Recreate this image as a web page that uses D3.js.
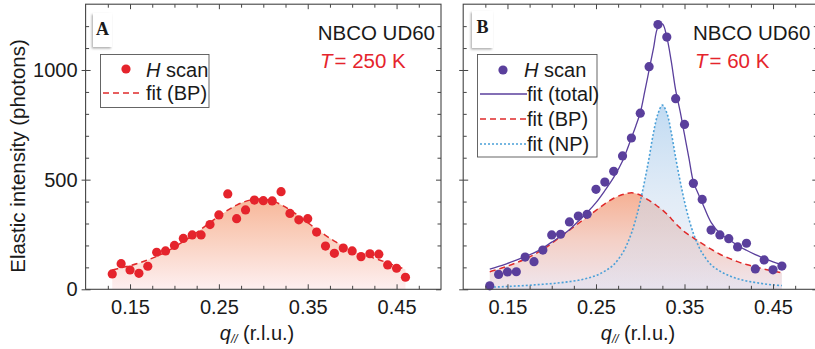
<!DOCTYPE html>
<html><head><meta charset="utf-8">
<script src="https://cdn.jsdelivr.net/npm/d3@7"></script>
<style>
body{margin:0;background:#fff}
svg{display:block}
text{font-family:"Liberation Sans",Arial,Helvetica,sans-serif;fill:#1a1a1a}
</style>
</head><body>
<svg id="c" width="815" height="349"></svg>
<script>
// ---------- DATA ----------
const qScan = [0.13,0.14,0.15,0.16,0.17,0.18,0.19,0.20,0.21,0.22,0.23,0.24,0.25,0.26,0.27,0.28,0.29,0.30,0.31,0.32,0.33,0.34,0.35,0.36,0.37,0.38,0.39,0.40,0.41,0.42,0.43,0.44,0.45,0.46];
const intensityA = [70,117,88,73,105,169,175,200,232,248,248,295,339,435,322,362,407,404,403,445,346,317,322,261,197,164,188,175,149,162,160,111,96,55];
const intensityB = [16,68,79,80,147,126,179,248,251,307,334,342,456,489,538,608,690,803,1015,1207,1150,869,752,483,410,270,248,231,193,210,93,134,89,106];

// fit curves
const fitQA = [0.13,0.14,0.15,0.16,0.17,0.18,0.19,0.20,0.21,0.22,0.23,0.24,0.25,0.26,0.27,0.28,0.29,0.30,0.31,0.32,0.33,0.34,0.35,0.36,0.37,0.38,0.39,0.40,0.41,0.42,0.43,0.44,0.45,0.46];
const fitBPA = [88,98,108,120,134,150,170,193,218,245,274,304,334,361,384,401,410,411,403,386,362,334,304,274,246,220,197,176,160,148,135,120,106,90];

const fitQB = [0.13,0.14,0.15,0.16,0.17,0.18,0.19,0.20,0.21,0.22,0.23,0.24,0.25,0.26,0.27,0.28,0.285,0.29,0.295,0.30,0.305,0.31,0.315,0.32,0.325,0.33,0.335,0.34,0.345,0.35,0.355,0.36,0.365,0.37,0.38,0.39,0.40,0.41,0.42,0.43,0.44,0.45,0.46];
const fitTotalB = [92,104,118,133,149,166,188,215,242,272,310,350,395,450,510,585,635,690,745,805,900,1000,1100,1195,1210,1150,1040,908,812,705,598,490,440,395,305,255,227,200,178,158,141,125,111];
const fitBPB = [80,92,106,121,138,158,182,210,240,270,300,330,360,390,415,432,437,440,437,430,418,405,392,377,362,343,322,300,280,262,248,235,221,208,183,160,142,126,113,102,92,83,75];
const fitNPB = [10,11,13,15,17,20,23,26,30,35,41,50,63,83,112,165,205,255,320,400,495,600,715,800,840,805,715,600,495,400,320,255,205,165,112,83,63,48,38,31,25,20,17];

const xTickLabels = [0.15,0.25,0.35,0.45];
const xMinorTicks = [0.125,0.175,0.2,0.225,0.275,0.3,0.325,0.375,0.4,0.425,0.475];
const yTickLabels = [0,500,1000];
const yMinorTicks = [100,200,300,400,600,700,800,900,1100,1200];

// ---------- LAYOUT ----------
const svg = d3.select("#c");
const defs = svg.append("defs");
const y = d3.scaleLinear().domain([0,1300]).range([289.3,4.2]);
const xA = d3.scaleLinear().domain([0.10,0.50]).range([85.6,441]);
const xB = d3.scaleLinear().domain([0.10,0.50]).range([463.2,817.3]);

const red = "#e5242c", purple = "#5a3f9c", blue = "#4aa0d8", dashRed = "#e02a2a";

function lin(id, stops, y1, y2){
  const g = defs.append("linearGradient").attr("id",id)
    .attr("gradientUnits","userSpaceOnUse").attr("x1",0).attr("x2",0).attr("y1",y1).attr("y2",y2);
  stops.forEach(s=>g.append("stop").attr("offset",s[0]).attr("stop-color",s[1]).attr("stop-opacity",s[2]===undefined?1:s[2]));
}
lin("gA", [[0,"#f7b698"],[0.5,"#fad3c3"],[1,"#fdeff0"]], y(420), y(0));
lin("gBP", [[0,"#f6b093"],[0.5,"#f4d0c6"],[1,"#efe6ee"]], y(445), y(0));
lin("gNP", [[0,"#b5d4f0",0.85],[0.5,"#c9dcf0",0.55],[1,"#d6dbee",0.3]], y(840), y(0));

const shadow = defs.append("filter").attr("id","sh").attr("x","-50%").attr("y","-50%").attr("width","200%").attr("height","200%");
shadow.append("feDropShadow").attr("dx",-1.2).attr("dy",1.5).attr("stdDeviation",1.3).attr("flood-color","#888").attr("flood-opacity",0.7);

function axes(x, showY){
  const g = svg.append("g");
  const y0 = y(0), yT = y(1300), xL = x(0.10), xR = x(0.50);
  const strip = s=>s.select(".domain").remove();
  // bottom
  g.append("g").attr("transform",`translate(0,${y0})`)
    .call(d3.axisBottom(x).tickValues(xMinorTicks).tickSize(-3.5).tickFormat("")).call(strip);
  const bx = g.append("g").attr("transform",`translate(0,${y0})`)
    .call(d3.axisBottom(x).tickValues(xTickLabels).tickSize(-5).tickPadding(8).tickFormat(d3.format(".2f"))).call(strip);
  bx.selectAll("text").attr("font-size",20).attr("dy","0.85em").attr("fill","#1a1a1a");
  // top
  g.append("g").attr("transform",`translate(0,${yT})`)
    .call(d3.axisTop(x).tickValues(xMinorTicks).tickSize(-3.5).tickFormat("")).call(strip);
  g.append("g").attr("transform",`translate(0,${yT})`)
    .call(d3.axisTop(x).tickValues(xTickLabels).tickSize(-5).tickFormat("")).call(strip);
  // left
  g.append("g").attr("transform",`translate(${xL},0)`)
    .call(d3.axisLeft(y).tickValues(yMinorTicks).tickSize(-3.5).tickFormat("")).call(strip);
  g.append("g").attr("transform",`translate(${xL},0)`)
    .call(d3.axisLeft(y).tickValues(yTickLabels).tickSize(-5).tickFormat("")).call(strip);
  const ly = g.append("g").attr("transform",`translate(${xL},0)`)
    .call(d3.axisLeft(y).tickValues(yTickLabels).tickSize(4).tickPadding(4).tickFormat(showY?d3.format("d"):"")).call(strip);
  ly.selectAll("text").attr("font-size",20).attr("fill","#1a1a1a");
  // right
  g.append("g").attr("transform",`translate(${xR},0)`)
    .call(d3.axisRight(y).tickValues(yMinorTicks).tickSize(-3.5).tickFormat("")).call(strip);
  g.append("g").attr("transform",`translate(${xR},0)`)
    .call(d3.axisRight(y).tickValues(yTickLabels).tickSize(-5).tickFormat("")).call(strip);
  g.selectAll(".tick line").attr("stroke","#444").attr("stroke-width",1);
  g.append("rect").attr("x",xL).attr("y",yT).attr("width",xR-xL).attr("height",y0-yT)
    .attr("fill","none").attr("stroke","#444").attr("stroke-width",1.1);
  // x title
  const t = svg.append("text").attr("x", x===xA?257:638).attr("y",340).attr("text-anchor","middle").attr("font-size",20);
  t.append("tspan").style("font-style","italic").text("q");
  t.append("tspan").style("font-style","italic").style("font-size","12px").attr("dy",3).text("//");
  t.append("tspan").attr("dy",-3).text(" (r.l.u.)");
}

function labelBox(x0, y0, w, h, letter){
  svg.append("rect").attr("x",x0).attr("y",y0).attr("width",w).attr("height",h)
    .attr("fill","#fff").attr("filter","url(#sh)");
  svg.append("text").attr("x",x0+w/2).attr("y",y0+22).attr("text-anchor","middle")
    .style("font-family","'Liberation Serif','Times New Roman',serif").style("font-weight","bold")
    .style("font-size","18px").text(letter);
}

// ---------- PANEL A ----------
const areaA = d3.area().x((d,i)=>xA(fitQA[i])).y0(y(0)).y1(d=>y(d)).curve(d3.curveCatmullRom);
svg.append("path").datum(fitBPA).attr("d",areaA).attr("fill","url(#gA)");
svg.append("path").datum(fitBPA)
  .attr("d",d3.line().x((d,i)=>xA(fitQA[i])).y(d=>y(d)).curve(d3.curveCatmullRom))
  .attr("fill","none").attr("stroke",dashRed).attr("stroke-width",1.5).attr("stroke-dasharray","6,4");
svg.append("g").selectAll("circle").data(intensityA).join("circle")
  .attr("cx",(d,i)=>xA(qScan[i])).attr("cy",d=>y(d)).attr("r",4.6).attr("fill",red);
axes(xA, true);
labelBox(93,13,19,34,"A");

// legend A
svg.append("rect").attr("x",100.5).attr("y",54.5).attr("width",108.5).attr("height",53)
  .attr("fill","#fff").attr("stroke","#555").attr("stroke-width",0.9);
svg.append("circle").attr("cx",126).attr("cy",69).attr("r",4.6).attr("fill",red);
const lA1 = svg.append("text").attr("x",146).attr("y",76.5).attr("font-size",20);
lA1.append("tspan").style("font-style","italic").text("H");
lA1.append("tspan").text(" scan");
svg.append("line").attr("x1",103).attr("x2",143).attr("y1",93).attr("y2",93)
  .attr("stroke",dashRed).attr("stroke-width",1.5).attr("stroke-dasharray","6,4");
svg.append("text").attr("x",146).attr("y",100).attr("font-size",20).text("fit (BP)");

svg.append("text").attr("x",435).attr("y",40).attr("text-anchor","end").attr("font-size",20.5).text("NBCO UD60");
const tA = svg.append("text").attr("x",320).attr("y",68).attr("font-size",20.5).style("fill",red);
tA.append("tspan").style("font-style","italic").style("fill",red).text("T");
tA.append("tspan").style("fill",red).attr("dx",2).text("= 250 K");

// ---------- PANEL B ----------
const areaB = arr => d3.area().x((d,i)=>xB(fitQB[i])).y0(y(0)).y1(d=>y(d)).curve(d3.curveCatmullRom)(arr);
const lineB = arr => d3.line().x((d,i)=>xB(fitQB[i])).y(d=>y(d)).curve(d3.curveCatmullRom)(arr);
svg.append("path").attr("d",areaB(fitBPB)).attr("fill","url(#gBP)");
svg.append("path").attr("d",areaB(fitNPB)).attr("fill","url(#gNP)");
svg.append("path").attr("d",lineB(fitBPB)).attr("fill","none").attr("stroke",dashRed)
  .attr("stroke-width",1.5).attr("stroke-dasharray","6,4");
svg.append("path").attr("d",lineB(fitNPB)).attr("fill","none").attr("stroke",blue)
  .attr("stroke-width",1.6).attr("stroke-dasharray","2,2");
svg.append("path").attr("d",lineB(fitTotalB)).attr("fill","none").attr("stroke",purple).attr("stroke-width",1.3);
svg.append("g").selectAll("circle").data(intensityB).join("circle")
  .attr("cx",(d,i)=>xB(qScan[i])).attr("cy",d=>y(d)).attr("r",4.6).attr("fill",purple);
axes(xB, false);
labelBox(472,11,21,37,"B");

// legend B
svg.append("rect").attr("x",477.5).attr("y",54.5).attr("width",119.5).attr("height",102.5)
  .attr("fill","#fff").attr("stroke","#555").attr("stroke-width",0.9);
svg.append("circle").attr("cx",503).attr("cy",70).attr("r",4.6).attr("fill",purple);
const lB1 = svg.append("text").attr("x",524).attr("y",77).attr("font-size",20);
lB1.append("tspan").style("font-style","italic").text("H");
lB1.append("tspan").text(" scan");
const legRows = [
  {label:"fit (total)", y:94, stroke:purple, dash:null, w:1.3},
  {label:"fit (BP)", y:119, stroke:dashRed, dash:"6,4", w:1.5},
  {label:"fit (NP)", y:144, stroke:blue, dash:"2,2", w:1.6}
];
legRows.forEach(r=>{
  const l = svg.append("line").attr("x1",480).attr("x2",527).attr("y1",r.y).attr("y2",r.y)
    .attr("stroke",r.stroke).attr("stroke-width",r.w);
  if(r.dash) l.attr("stroke-dasharray",r.dash);
  svg.append("text").attr("x",527).attr("y",r.y+7).attr("font-size",20).text(r.label);
});

svg.append("text").attr("x",693).attr("y",40).attr("font-size",20.5).text("NBCO UD60");
const tB = svg.append("text").attr("x",695).attr("y",68).attr("font-size",20.5).style("fill",red);
tB.append("tspan").style("font-style","italic").style("fill",red).text("T");
tB.append("tspan").style("fill",red).attr("dx",2).text("= 60 K");

// y title
svg.append("text").attr("transform","translate(25,156) rotate(-90)").attr("text-anchor","middle")
  .attr("font-size",20.5).text("Elastic intensity (photons)");
</script>
</body></html>
